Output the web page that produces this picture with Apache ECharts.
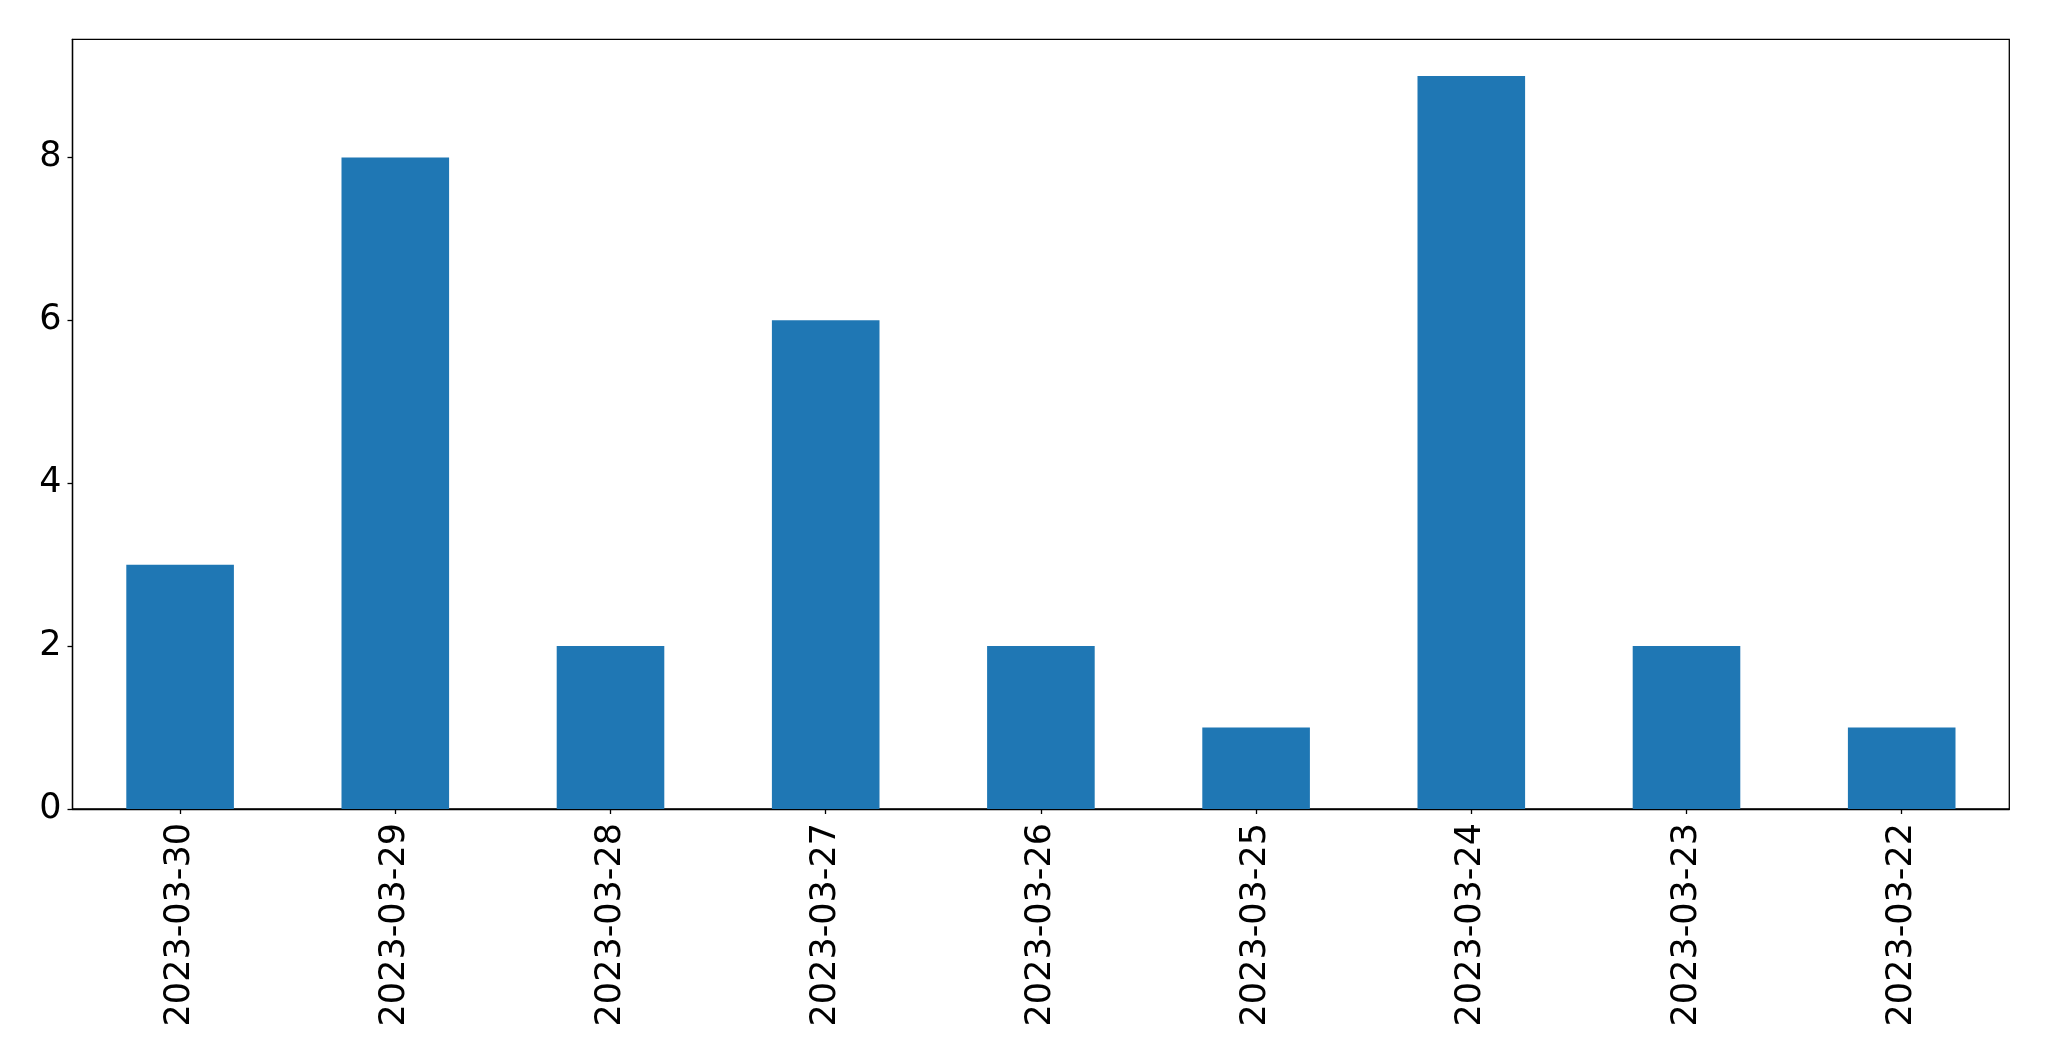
<!DOCTYPE html>
<html>
<head>
<meta charset="utf-8">
<script src="https://cdn.jsdelivr.net/npm/echarts@6/dist/echarts.min.js"></script>
<style>html,body{margin:0;padding:0;background:#fff;}#c{width:2049px;height:1061px;}</style>
</head>
<body>
<div id="c"></div>
<script>
const categories = ['2023-03-30','2023-03-29','2023-03-28','2023-03-27','2023-03-26','2023-03-25','2023-03-24','2023-03-23','2023-03-22'];
const values = [3, 8, 2, 6, 2, 1, 9, 2, 1];
const yTicks = [0, 2, 4, 6, 8];

const chart = echarts.init(document.getElementById('c'), null, {renderer: 'canvas'});
chart.setOption({
  animation: false,
  backgroundColor: '#ffffff',
  grid: {
    left: 72.5, right: 39.7, top: 39.3, bottom: 252,
    show: true, borderColor: '#000', borderWidth: 1.3, backgroundColor: 'transparent'
  },
  xAxis: {
    type: 'category',
    data: categories,
    boundaryGap: true,
    axisLine: {show: true, lineStyle: {color: '#000', width: 1.3}},
    axisTick: {show: true, alignWithLabel: true, length: 5, lineStyle: {color: '#000', width: 1.3}},
    axisLabel: {rotate: 90, fontFamily: 'DejaVu Sans', fontSize: 35, color: '#000', margin: 14, interval: 0},
    splitLine: {show: false}
  },
  yAxis: {
    type: 'value',
    min: 0, max: 9.45, interval: 2,
    axisLine: {show: true, lineStyle: {color: '#000', width: 1.3}},
    axisTick: {show: true, length: 5, customValues: yTicks, lineStyle: {color: '#000', width: 1.3}},
    axisLabel: {fontFamily: 'DejaVu Sans', fontSize: 35, color: '#000', margin: 11, customValues: yTicks},
    splitLine: {show: false}
  },
  series: [{
    type: 'bar',
    data: values,
    barCategoryGap: '50%',
    itemStyle: {color: '#1f77b4'}
  }]
});
</script>
</body>
</html>
